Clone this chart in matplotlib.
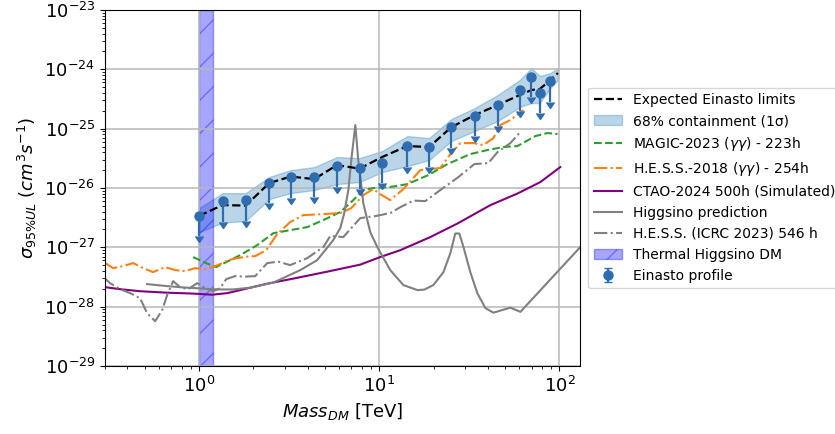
import matplotlib
matplotlib.use("Agg")
import matplotlib.pyplot as plt
import numpy as np

# Einasto-profile upper limits (TeV, cm^3 s^-1)
mass_pts = [1.0, 1.35, 1.81, 2.45, 3.22, 4.35, 5.82, 7.77, 10.35, 14.3, 18.9,
            25.1, 33.8, 45.4, 60.2, 69.9, 77.8, 89.1]
sigma_pts = [3.4e-27, 6.0e-27, 6.2e-27, 1.22e-26, 1.53e-26, 1.55e-26, 2.34e-26,
             2.14e-26, 2.66e-26, 5.1e-26, 4.95e-26, 1.05e-25, 1.65e-25, 2.47e-25,
             4.48e-25, 7.5e-25, 4.03e-25, 6.3e-25]

# Expected limits and 68% containment band
mass_band = [1.0, 1.35, 1.81, 2.45, 3.22, 4.35, 5.82, 7.77, 10.35, 14.3, 18.9,
             25.1, 33.8, 45.4, 60.2, 69.9, 77.8, 89.1, 98.0]
expected = [3.40e-27, 5.15e-27, 5.05e-27, 1.21e-26, 1.56e-26, 1.41e-26, 2.43e-26,
            2.12e-26, 3.32e-26, 5.09e-26, 4.90e-26, 1.06e-25, 1.69e-25, 2.50e-25,
            3.69e-25, 4.48e-25, 4.66e-25, 6.60e-25, 8.66e-25]
band_hi = [4.58e-27, 8.2e-27, 8.2e-27, 1.53e-26, 2.00e-26, 2.25e-26, 3.32e-26,
           3.19e-26, 4.19e-26, 7.5e-26, 6.94e-26, 1.45e-25, 2.22e-25, 3.69e-25,
           6.6e-25, 1.05e-24, 7.71e-25, 8.66e-25, 1.05e-24]
band_lo = [1.80e-27, 2.61e-27, 2.77e-27, 6.5e-27, 8.2e-27, 9.22e-27, 1.16e-26,
           1.26e-26, 1.85e-26, 2.34e-26, 2.95e-26, 6.18e-26, 9.12e-26, 1.34e-25,
           2.31e-25, 2.70e-25, 2.70e-25, 4.84e-25, 6.6e-25]

# MAGIC-2023 (gamma gamma) - 223h
magic_m = [0.926, 1.094, 1.243, 1.449, 1.690, 2.10, 2.58, 3.20, 3.98, 4.89, 6.07,
           7.17, 8.15, 9.26, 11.5, 14.3, 18.7, 23.9, 32.0, 39.8, 48.9, 58.4,
           73.5, 85.8, 97.5]
magic_s = [6.84e-28, 5.42e-28, 4.64e-28, 5.85e-28, 7.38e-28, 1.09e-27, 1.73e-27,
           1.95e-27, 2.19e-27, 2.88e-27, 3.93e-27, 6.25e-27, 9.22e-27, 9.96e-27,
           1.04e-26, 1.16e-26, 1.65e-26, 2.53e-26, 3.73e-26, 4.36e-26, 4.90e-26,
           5.09e-26, 7.50e-26, 8.43e-26, 8.11e-26]

# H.E.S.S.-2018 (gamma gamma) - 254h
hess18_m = [0.301, 0.333, 0.378, 0.430, 0.489, 0.555, 0.647, 0.736, 0.836, 0.950,
            1.080, 1.181, 1.308, 1.449, 1.626, 1.848, 2.047, 2.356, 2.712, 3.20,
            3.78, 4.89, 6.07, 6.99, 8.15, 9.26, 10.1, 11.5, 13.6, 16.9, 21.8,
            24.8, 28.2, 33.3, 37.8, 43.0, 47.0, 53.4, 63.1]
hess18_s = [5.42e-28, 4.46e-28, 4.82e-28, 5.42e-28, 4.46e-28, 3.82e-28, 4.64e-28,
            4.13e-28, 3.97e-28, 4.46e-28, 4.29e-28, 4.64e-28, 5.21e-28, 6.08e-28,
            6.58e-28, 6.97e-28, 7.11e-28, 8.97e-28, 1.67e-27, 2.66e-27, 3.49e-27,
            3.63e-27, 3.78e-27, 4.58e-27, 7.59e-27, 9.58e-27, 7.89e-27, 6.25e-27,
            9.58e-27, 2.00e-26, 2.17e-26, 3.73e-26, 5.71e-26, 5.71e-26, 5.29e-26,
            6.94e-26, 1.15e-25, 1.40e-25, 2.06e-25]

# CTAO-2024 500h (simulated)
ctao_m = [0.301, 0.364, 0.470, 0.664, 0.926, 1.181, 1.431, 1.690, 2.387, 3.33,
          5.14, 7.84, 10.1, 13.1, 19.2, 27.1, 41.4, 58.4, 78.4, 101.0]
ctao_s = [2.13e-28, 1.97e-28, 1.82e-28, 1.72e-28, 1.66e-28, 1.59e-28, 1.69e-28,
          1.90e-28, 2.44e-28, 2.97e-28, 3.89e-28, 5.11e-28, 6.84e-28, 8.97e-28,
          1.49e-27, 2.51e-27, 5.15e-27, 8.05e-27, 1.26e-26, 2.25e-26]

# Higgsino prediction
higgsino_m = [0.514, 0.664, 0.815, 1.013, 1.259, 1.545, 1.920, 2.577, 3.64, 4.52,
              5.55, 6.07, 6.39, 6.73, 6.99, 7.36, 7.64, 7.94, 8.15, 8.58, 8.91,
              9.75, 11.5, 13.6, 16.3, 17.8, 19.95, 22.7, 24.8, 26.4, 27.8, 29.3,
              32.0, 35.0, 38.8, 43.0, 53.4, 60.7, 130.9]
higgsino_s = [2.40e-28, 2.22e-28, 2.11e-28, 2.03e-28, 1.95e-28, 1.95e-28, 2.09e-28,
              2.54e-28, 4.13e-28, 6.08e-28, 1.32e-27, 2.11e-27, 3.78e-27, 9.22e-27,
              2.95e-26, 1.15e-25, 2.95e-26, 1.12e-26, 5.56e-27, 2.88e-27, 1.80e-27,
              1.01e-27, 4.13e-28, 2.31e-28, 1.90e-28, 1.94e-28, 2.31e-28, 3.82e-28,
              7.98e-28, 1.71e-27, 1.71e-27, 1.02e-27, 3.82e-28, 1.69e-28, 9.44e-29,
              7.92e-29, 9.62e-29, 8.17e-29, 1.02e-27]

# H.E.S.S. (ICRC 2023) 546 h
icrc_m = [0.295, 0.320, 0.364, 0.414, 0.470, 0.514, 0.570, 0.623, 0.664, 0.717,
          0.784, 0.869, 0.975, 1.080, 1.196, 1.308, 1.413, 1.585, 1.80, 2.047,
          2.387, 2.748, 3.20, 3.98, 4.89, 5.34, 6.31, 7.84, 9.50, 11.5, 13.1,
          15.5, 18.0, 21.8, 27.5, 33.7, 40.3, 45.3, 53.4, 60.7]
icrc_s = [3.14e-28, 2.49e-28, 1.97e-28, 1.69e-28, 1.39e-28, 7.77e-29, 5.69e-29,
          8.73e-29, 1.56e-28, 2.69e-28, 2.13e-28, 1.97e-28, 2.49e-28, 2.05e-28,
          1.82e-28, 2.05e-28, 2.91e-28, 3.27e-28, 3.21e-28, 3.27e-28, 5.42e-28,
          5.74e-28, 5.01e-28, 6.58e-28, 1.01e-27, 1.55e-27, 1.49e-27, 3.11e-27,
          3.36e-27, 3.78e-27, 4.76e-27, 6.13e-27, 6.01e-27, 9.22e-27, 1.53e-26,
          2.53e-26, 2.63e-26, 4.03e-26, 5.71e-26, 8.77e-26]

# Thermal Higgsino mass window (TeV)
thermal_lo, thermal_hi = 1.0, 1.2

arrow_frac = 0.55  # length of the upper-limit arrows, as a fraction of the value

fig = plt.figure(figsize=(8.35, 4.34), dpi=100)
ax = fig.add_axes([0.1257, 0.1567, 0.5689, 0.8203])

ax.plot(mass_band, expected, 'k--', lw=1.6, label='Expected Einasto limits', zorder=4)
ax.fill_between(mass_band, band_lo, band_hi, color='tab:blue', alpha=0.3,
                label='68% containment (1σ)')
ax.plot(magic_m, magic_s, '--', color='tab:green', lw=1.5,
        label=r'MAGIC-2023 ($\gamma\gamma$) - 223h')
ax.plot(hess18_m, hess18_s, '-.', color='tab:orange', lw=1.5,
        label=r'H.E.S.S.-2018 ($\gamma\gamma$) - 254h')
ax.plot(ctao_m, ctao_s, '-', color='purple', lw=1.5, label='CTAO-2024 500h (Simulated)')
ax.plot(higgsino_m, higgsino_s, '-', color='gray', lw=1.5, label='Higgsino prediction')
ax.plot(icrc_m, icrc_s, '-.', color='gray', lw=1.5, label='H.E.S.S. (ICRC 2023) 546 h')
ax.axvspan(thermal_lo, thermal_hi, facecolor='blue', edgecolor='blue', alpha=0.35,
           hatch='/', label='Thermal Higgsino DM')
yerr = arrow_frac * np.asarray(sigma_pts)
ax.errorbar(mass_pts, sigma_pts, yerr=yerr, uplims=True, fmt='o', color='#2f6db0',
            ms=6.5, elinewidth=1.6, capsize=3, label='Einasto profile', zorder=5)

ax.set_xscale('log')
ax.set_yscale('log')
ax.set_xlim(0.3, 130)
ax.set_ylim(1e-29, 1e-23)
ax.grid(True, which='major', color='#b8b8b8', lw=1.1)
ax.tick_params(labelsize=13)
ax.set_xlabel(r'$Mass_{DM}$ [TeV]', fontsize=13)
ax.set_ylabel(r'$\sigma_{95\%UL}$ $(cm^3s^{-1})$', fontsize=13)

ax.legend(loc='center left', bbox_to_anchor=(1.003, 0.5), fontsize=10)

fig.savefig('out.png', dpi=100)
